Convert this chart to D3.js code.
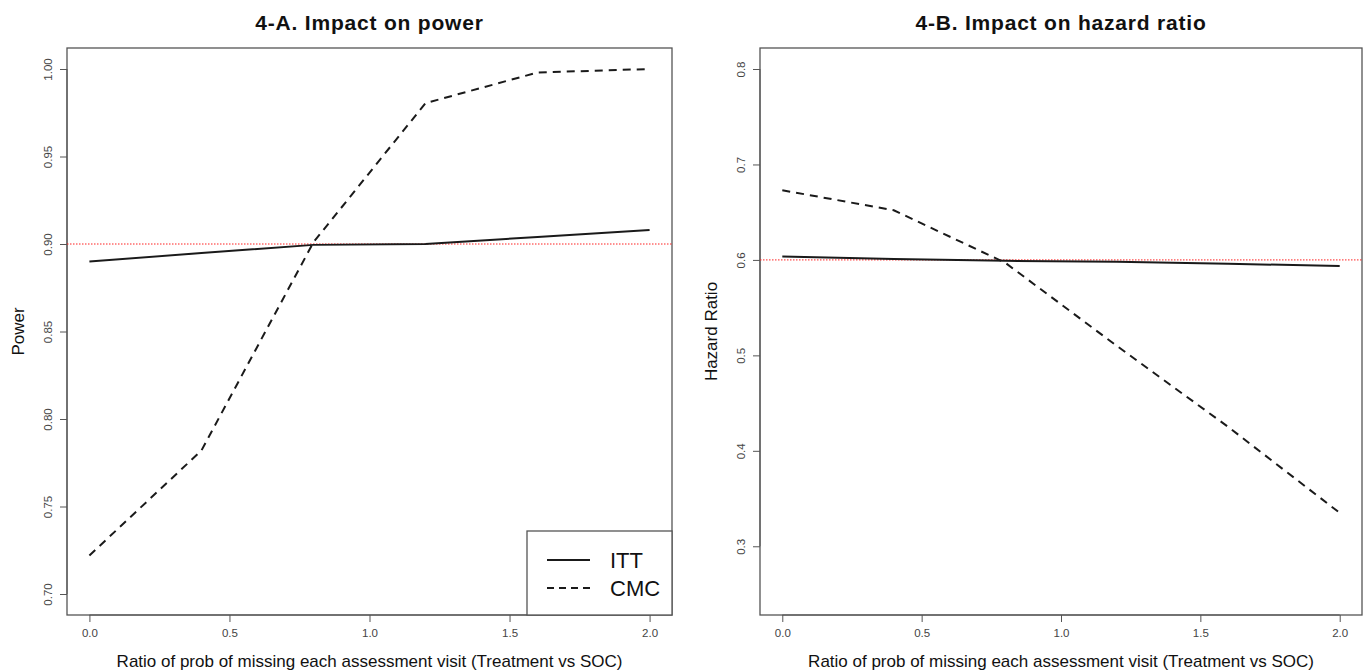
<!DOCTYPE html>
<html>
<head>
<meta charset="utf-8">
<script src="https://cdn.jsdelivr.net/npm/d3@7"></script>
<style>
  html, body { margin: 0; padding: 0; background: #fff; }
  svg { display: block; font-family: "Liberation Sans", Arial, sans-serif; }
</style>
</head>
<body>
<svg id="chart" width="1370" height="672"></svg>
<script>
// ---------- data ----------
const xValues = [0.0, 0.4, 0.8, 1.2, 1.6, 2.0];
const powerITT = [0.890, 0.8948, 0.8995, 0.900, 0.904, 0.908];
const powerCMC = [0.722, 0.782, 0.901, 0.9805, 0.998, 1.000];
const hrITT = [0.6035, 0.601, 0.599, 0.598, 0.596, 0.5935];
const hrCMC = [0.673, 0.652, 0.597, 0.510, 0.425, 0.335];
const xTicks = [0.0, 0.5, 1.0, 1.5, 2.0];
const powerTicks = [0.70, 0.75, 0.80, 0.85, 0.90, 0.95, 1.00];
const hrTicks = [0.3, 0.4, 0.5, 0.6, 0.7, 0.8];
const powerRef = 0.90;
const hrRef = 0.60;
const legendLabels = ["ITT", "CMC"];

// ---------- layout ----------
const svg = d3.select("#chart");
const plotTop = 48, plotBottom = 615;
const panels = [
  { title: "4-A. Impact on power", ylab: "Power", left: 67, right: 672,
    ydom: [0.688, 1.012], ticks: powerTicks, fmt: d3.format(".2f"),
    itt: powerITT, cmc: powerCMC, ref: powerRef, legend: true, ylabX: 18 },
  { title: "4-B. Impact on hazard ratio", ylab: "Hazard Ratio", left: 760, right: 1362,
    ydom: [0.228, 0.822], ticks: hrTicks, fmt: d3.format(".1f"),
    itt: hrITT, cmc: hrCMC, ref: hrRef, legend: false, ylabX: 711 }
];

const lineCol = "#1a1a1a";
const boxCol = "#555";
const tickCol = "#444";

panels.forEach(p => {
  const x = d3.scaleLinear().domain([-0.08, 2.08]).range([p.left, p.right]);
  const y = d3.scaleLinear().domain(p.ydom).range([plotBottom, plotTop]);
  const g = svg.append("g");

  // title
  g.append("text")
    .attr("x", (p.left + p.right) / 2).attr("y", 30)
    .attr("text-anchor", "middle")
    .attr("font-size", 21).attr("letter-spacing", 0.8)
    .attr("font-weight", "bold").attr("fill", "#111")
    .text(p.title);

  // x axis
  const xAxis = g.append("g").attr("transform", `translate(0,${plotBottom})`)
    .call(d3.axisBottom(x).tickValues(xTicks).tickFormat(d3.format(".1f")).tickSize(7).tickPadding(7));
  xAxis.select(".domain").attr("d", `M${x(xTicks[0])},0H${x(xTicks[xTicks.length-1])}`).attr("stroke", boxCol);
  xAxis.selectAll(".tick line").attr("stroke", boxCol);
  xAxis.selectAll(".tick text").attr("font-size", 11.5).attr("fill", tickCol)
    .attr("font-family", "Liberation Sans, Arial, sans-serif");

  // y axis
  const yAxis = g.append("g").attr("transform", `translate(${p.left},0)`)
    .call(d3.axisLeft(y).tickValues(p.ticks).tickFormat(p.fmt).tickSize(7));
  yAxis.select(".domain").attr("d", `M0,${y(p.ticks[0])}V${y(p.ticks[p.ticks.length-1])}`).attr("stroke", boxCol);
  yAxis.selectAll(".tick line").attr("stroke", boxCol);
  yAxis.selectAll(".tick text")
    .attr("x", null).attr("dy", null)
    .attr("transform", "translate(-19,0) rotate(-90)")
    .attr("text-anchor", "middle").attr("dy", "0.35em")
    .attr("font-size", 11.5).attr("fill", tickCol)
    .attr("font-family", "Liberation Sans, Arial, sans-serif");

  // box
  g.append("rect")
    .attr("x", p.left).attr("y", plotTop)
    .attr("width", p.right - p.left).attr("height", plotBottom - plotTop)
    .attr("fill", "none").attr("stroke", boxCol).attr("stroke-width", 1.3);

  // axis titles
  g.append("text")
    .attr("x", (p.left + p.right) / 2).attr("y", 667)
    .attr("text-anchor", "middle").attr("font-size", 17).attr("fill", "#111")
    .text("Ratio of prob of missing each assessment visit (Treatment vs SOC)");
  g.append("text")
    .attr("transform", `translate(${p.ylabX},${(plotTop + plotBottom) / 2}) rotate(-90)`)
    .attr("dy", "0.35em")
    .attr("text-anchor", "middle").attr("font-size", 17).attr("fill", "#111")
    .text(p.ylab);

  // reference line
  g.append("line")
    .attr("x1", p.left).attr("x2", p.right)
    .attr("y1", y(p.ref)).attr("y2", y(p.ref))
    .attr("stroke", "#ff2020").attr("stroke-width", 1).attr("stroke-dasharray", "1.5,1.5");

  const line = d3.line().x((d, i) => x(xValues[i])).y(d => y(d));
  g.append("path").datum(p.itt).attr("d", line)
    .attr("fill", "none").attr("stroke", lineCol).attr("stroke-width", 2);
  g.append("path").datum(p.cmc).attr("d", line)
    .attr("fill", "none").attr("stroke", lineCol).attr("stroke-width", 2)
    .attr("stroke-dasharray", "8,6");

  if (p.legend) {
    const lx = 527, ly = 531;
    g.append("rect").attr("x", lx).attr("y", ly)
      .attr("width", p.right - lx).attr("height", plotBottom - ly)
      .attr("fill", "#fff").attr("stroke", boxCol).attr("stroke-width", 1.3);
    legendLabels.forEach((lab, i) => {
      const yy = 560 + i * 28;
      g.append("line").attr("x1", 547).attr("x2", 590).attr("y1", yy).attr("y2", yy)
        .attr("stroke", lineCol).attr("stroke-width", 2)
        .attr("stroke-dasharray", i === 1 ? "7,5" : null);
      g.append("text").attr("x", 610).attr("y", yy).attr("dy", "0.36em")
        .attr("font-size", 22).attr("fill", "#111").text(lab);
    });
  }
});
</script>
</body>
</html>
